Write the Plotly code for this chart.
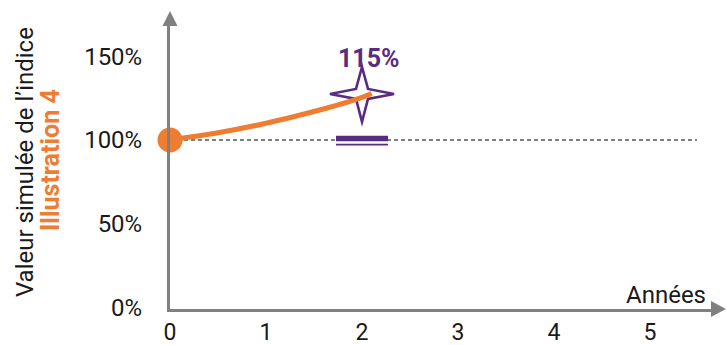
import plotly.graph_objects as go

# Simulated index path (years, level as fraction of the initial value)
years = [0, 0.5, 1, 1.5, 2, 2.1]
index_level = [1.0, 1.043, 1.10, 1.17, 1.255, 1.278]

# Observation at year 2
obs_year = 2
obs_level = 1.275
payoff = 1.15          # redemption shown above the star
capital_level = 1.0    # protected capital / reference level

x_ticks = [0, 1, 2, 3, 4, 5]
y_ticks = [0, 0.5, 1.0, 1.5]

ORANGE = "#EE7D31"
PURPLE = "#582C83"
GRAY = "#808080"
TEXT = "#1a1a1a"
FONT = "Roboto"

fig = go.Figure()

# index path
fig.add_trace(go.Scatter(
    x=years, y=index_level, mode="lines",
    line=dict(color=ORANGE, width=5, shape="spline"),
    hoverinfo="skip", showlegend=False,
))
# starting point
fig.add_trace(go.Scatter(
    x=[years[0]], y=[index_level[0]], mode="markers",
    marker=dict(color=ORANGE, size=25),
    cliponaxis=False, hoverinfo="skip", showlegend=False,
))

shapes = []
# dashed reference level
shapes.append(dict(
    type="line", xref="x", yref="y", x0=0, x1=5.49,
    y0=capital_level, y1=capital_level,
    line=dict(color="black", width=1.1, dash="4px,3px"), layer="below",
))
# four-pointed star at the observation
shapes.append(dict(
    type="path", xref="x", yref="y",
    xsizemode="pixel", ysizemode="pixel",
    xanchor=obs_year, yanchor=obs_level,
    path="M 32 0 L 6 5 L 0 27 L -6 5 L -32 0 L -6 -5 L 0 -28 L 6 -5 Z",
    line=dict(color=PURPLE, width=2.6), fillcolor="rgba(0,0,0,0)", layer="below",
))
# capital marker: thick bar + thin underline
shapes.append(dict(
    type="rect", xref="x", yref="y",
    xsizemode="pixel", ysizemode="pixel",
    xanchor=obs_year, yanchor=capital_level,
    x0=-26, x1=26, y0=-1.2, y1=4.2,
    line=dict(width=0), fillcolor=PURPLE, layer="above",
))
shapes.append(dict(
    type="line", xref="x", yref="y",
    xsizemode="pixel", ysizemode="pixel",
    xanchor=obs_year, yanchor=capital_level,
    x0=-26, x1=26, y0=-4.6, y1=-4.6,
    line=dict(color=PURPLE, width=1.6), layer="above",
))
# axis arrowheads
shapes.append(dict(
    type="path", xref="paper", yref="paper",
    xsizemode="pixel", ysizemode="pixel", xanchor=0, yanchor=1,
    path="M -7.5 0 L 7.5 0 L 0 15 Z",
    line=dict(width=0), fillcolor=GRAY,
))
shapes.append(dict(
    type="path", xref="paper", yref="paper",
    xsizemode="pixel", ysizemode="pixel", xanchor=1, yanchor=0,
    path="M 0 8 L 15 0 L 0 -8 Z",
    line=dict(width=0), fillcolor=GRAY,
))

annotations = [
    dict(x=obs_year, y=obs_level, xref="x", yref="y",
         text=f"<b>{payoff:.0%}</b>", showarrow=False,
         xshift=7, yshift=35,
         font=dict(family=FONT, size=25, color=PURPLE)),
    dict(x=1, y=0, xref="paper", yref="paper", text="Années",
         showarrow=False, xanchor="right", yanchor="bottom", xshift=-3, yshift=-2,
         font=dict(family=FONT, size=24, color=TEXT)),
    dict(x=-145 / 541, y=0.519, xref="paper", yref="paper",
         xanchor="center", yanchor="middle",
         text="Valeur simulée de l’indice", textangle=-90, showarrow=False,
         font=dict(family=FONT, size=24, color=TEXT)),
    dict(x=-120 / 541, y=0.5265, xref="paper", yref="paper",
         xanchor="center", yanchor="middle",
         text="<b>Illustration 4</b>", textangle=-90, showarrow=False,
         font=dict(family=FONT, size=25, color=ORANGE)),
]

fig.update_layout(
    width=726, height=345,
    margin=dict(l=170, r=15, t=26, b=36, autoexpand=False),
    paper_bgcolor="white", plot_bgcolor="white",
    shapes=shapes, annotations=annotations,
    font=dict(family=FONT, size=24, color=TEXT),
    showlegend=False,
)
fig.update_xaxes(
    range=[0, 541 / 96], tickvals=x_ticks, ticktext=[str(t) for t in x_ticks],
    showgrid=False, zeroline=False, showline=True, linecolor=GRAY, linewidth=3,
    ticks="", ticklabelstandoff=0, automargin=False,
    tickfont=dict(family=FONT, size=23, color=TEXT),
)
fig.update_yaxes(
    range=[(307.5 - 309) / 167.5, (307.5 - 26) / 167.5],
    tickvals=y_ticks, tickformat=".0%",
    showgrid=False, zeroline=False, showline=True, linecolor=GRAY, linewidth=3,
    ticks="", ticklabelstandoff=20, automargin=False,
    tickfont=dict(family=FONT, size=24, color=TEXT),
)

fig.write_html("out.html")
